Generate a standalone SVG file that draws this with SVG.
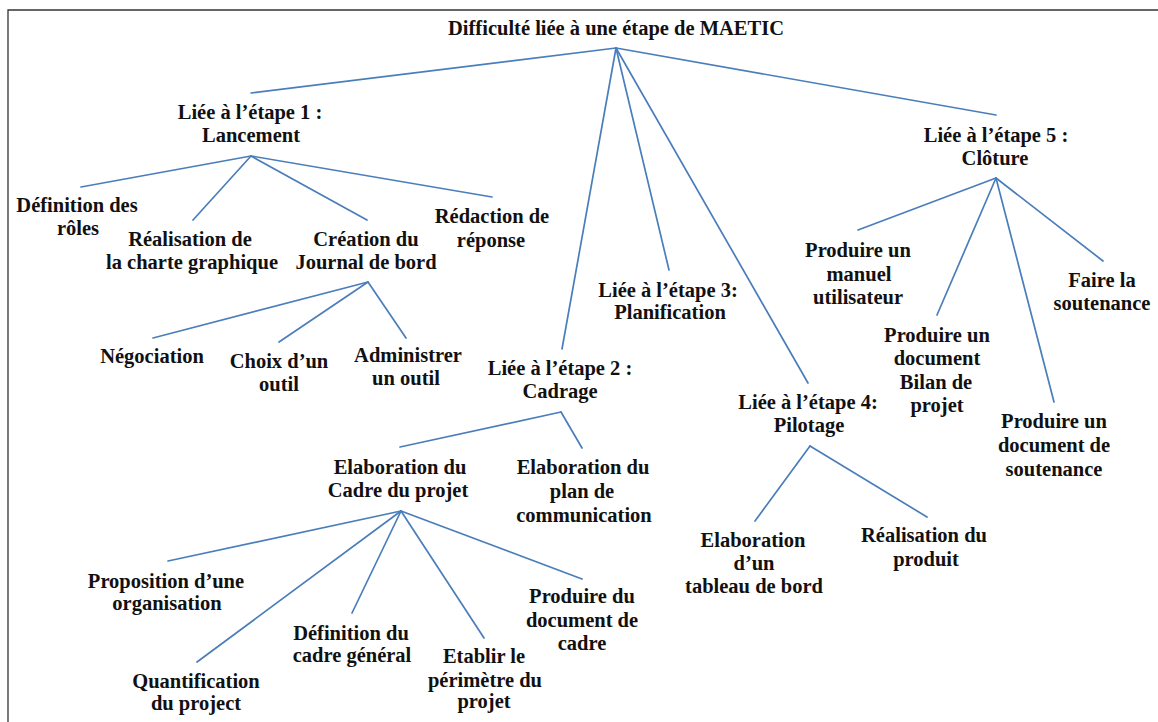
<svg xmlns="http://www.w3.org/2000/svg" width="1158" height="722" viewBox="0 0 1158 722">
<style>
text{font-family:"Liberation Serif","DejaVu Serif",serif;font-weight:bold;font-size:20.5px;fill:#111;text-anchor:middle}
.c line{stroke:#4a7ebb;stroke-width:1.7;fill:none;stroke-linecap:round}
.frame{stroke:#333;stroke-width:1.3;fill:none}
</style>
<rect width="1158" height="722" fill="#fff"/>
<path class="frame" d="M8,722 V10 H1158"/>
<g id="connectors" class="c">
<line x1="616" y1="48" x2="251" y2="93"/>
<line x1="616" y1="48" x2="996" y2="115"/>
<line x1="616" y1="48" x2="562" y2="349"/>
<line x1="616" y1="48" x2="669" y2="270"/>
<line x1="616" y1="48" x2="808" y2="383"/>
<line x1="251" y1="156" x2="81" y2="187"/>
<line x1="251" y1="156" x2="193" y2="220"/>
<line x1="251" y1="156" x2="367" y2="220"/>
<line x1="251" y1="156" x2="492" y2="197"/>
<line x1="368" y1="282" x2="153" y2="338"/>
<line x1="368" y1="282" x2="279" y2="342"/>
<line x1="368" y1="282" x2="406" y2="338"/>
<line x1="561" y1="412" x2="400" y2="447"/>
<line x1="561" y1="412" x2="582" y2="448"/>
<line x1="401" y1="511" x2="168" y2="561"/>
<line x1="401" y1="511" x2="197" y2="662"/>
<line x1="401" y1="511" x2="352" y2="613"/>
<line x1="401" y1="511" x2="484" y2="638"/>
<line x1="401" y1="511" x2="582" y2="579"/>
<line x1="810" y1="446" x2="755" y2="521"/>
<line x1="810" y1="446" x2="927" y2="517"/>
<line x1="996" y1="178" x2="858" y2="230"/>
<line x1="996" y1="178" x2="937" y2="315"/>
<line x1="996" y1="178" x2="1054" y2="402"/>
<line x1="996" y1="178" x2="1103" y2="261"/>
</g>
<g id="root"><text x="616" y="35">Difficulté liée à une étape de MAETIC</text></g>
<g id="etape1"><text x="250" y="119">Liée à l’étape 1 :</text><text x="251" y="142">Lancement</text></g>
<g id="roles"><text x="77" y="212">Définition des</text><text x="78" y="235">rôles</text></g>
<g id="charte"><text x="190" y="246">Réalisation de</text><text x="192" y="269">la charte graphique</text></g>
<g id="journal"><text x="366" y="246">Création du</text><text x="366" y="269">Journal de bord</text></g>
<g id="redaction"><text x="492" y="223">Rédaction de</text><text x="491" y="247">réponse</text></g>
<g id="negociation"><text x="152" y="363">Négociation</text></g>
<g id="choix"><text x="279" y="368">Choix d’un</text><text x="279" y="391">outil</text></g>
<g id="administrer"><text x="408" y="362">Administrer</text><text x="406" y="385">un outil</text></g>
<g id="etape2"><text x="560" y="375">Liée à l’étape 2 :</text><text x="560" y="398">Cadrage</text></g>
<g id="etape3"><text x="668" y="297">Liée à l’étape 3:</text><text x="670" y="319">Planification</text></g>
<g id="etape4"><text x="808" y="409">Liée à l’étape 4:</text><text x="809" y="432">Pilotage</text></g>
<g id="etape5"><text x="996" y="142">Liée à l’étape 5 :</text><text x="995" y="165">Clôture</text></g>
<g id="manuel"><text x="858" y="257">Produire un</text><text x="859" y="281">manuel</text><text x="858" y="304">utilisateur</text></g>
<g id="faire"><text x="1102" y="287">Faire la</text><text x="1102" y="310">soutenance</text></g>
<g id="bilan"><text x="937" y="342">Produire un</text><text x="937" y="365">document</text><text x="936" y="389">Bilan de</text><text x="937" y="412">projet</text></g>
<g id="docsoutenance"><text x="1054" y="428">Produire un</text><text x="1054" y="452">document de</text><text x="1054" y="476">soutenance</text></g>
<g id="cadre"><text x="400" y="474">Elaboration du</text><text x="398" y="497">Cadre du projet</text></g>
<g id="plan"><text x="583" y="474">Elaboration du</text><text x="582" y="498">plan de</text><text x="584" y="522">communication</text></g>
<g id="tableau"><text x="753" y="547">Elaboration</text><text x="754" y="570">d’un</text><text x="754" y="593">tableau de bord</text></g>
<g id="produit"><text x="924" y="542">Réalisation du</text><text x="926" y="566">produit</text></g>
<g id="proposition"><text x="166" y="588">Proposition d’une</text><text x="167" y="610">organisation</text></g>
<g id="quantification"><text x="196" y="688">Quantification</text><text x="196" y="710">du project</text></g>
<g id="defcadre"><text x="351" y="640">Définition du</text><text x="352" y="662">cadre général</text></g>
<g id="perimetre"><text x="484" y="663">Etablir le</text><text x="485" y="687">périmètre du</text><text x="484" y="708">projet</text></g>
<g id="doccadre"><text x="582" y="603">Produire du</text><text x="582" y="627">document de</text><text x="582" y="650">cadre</text></g>
</svg>
